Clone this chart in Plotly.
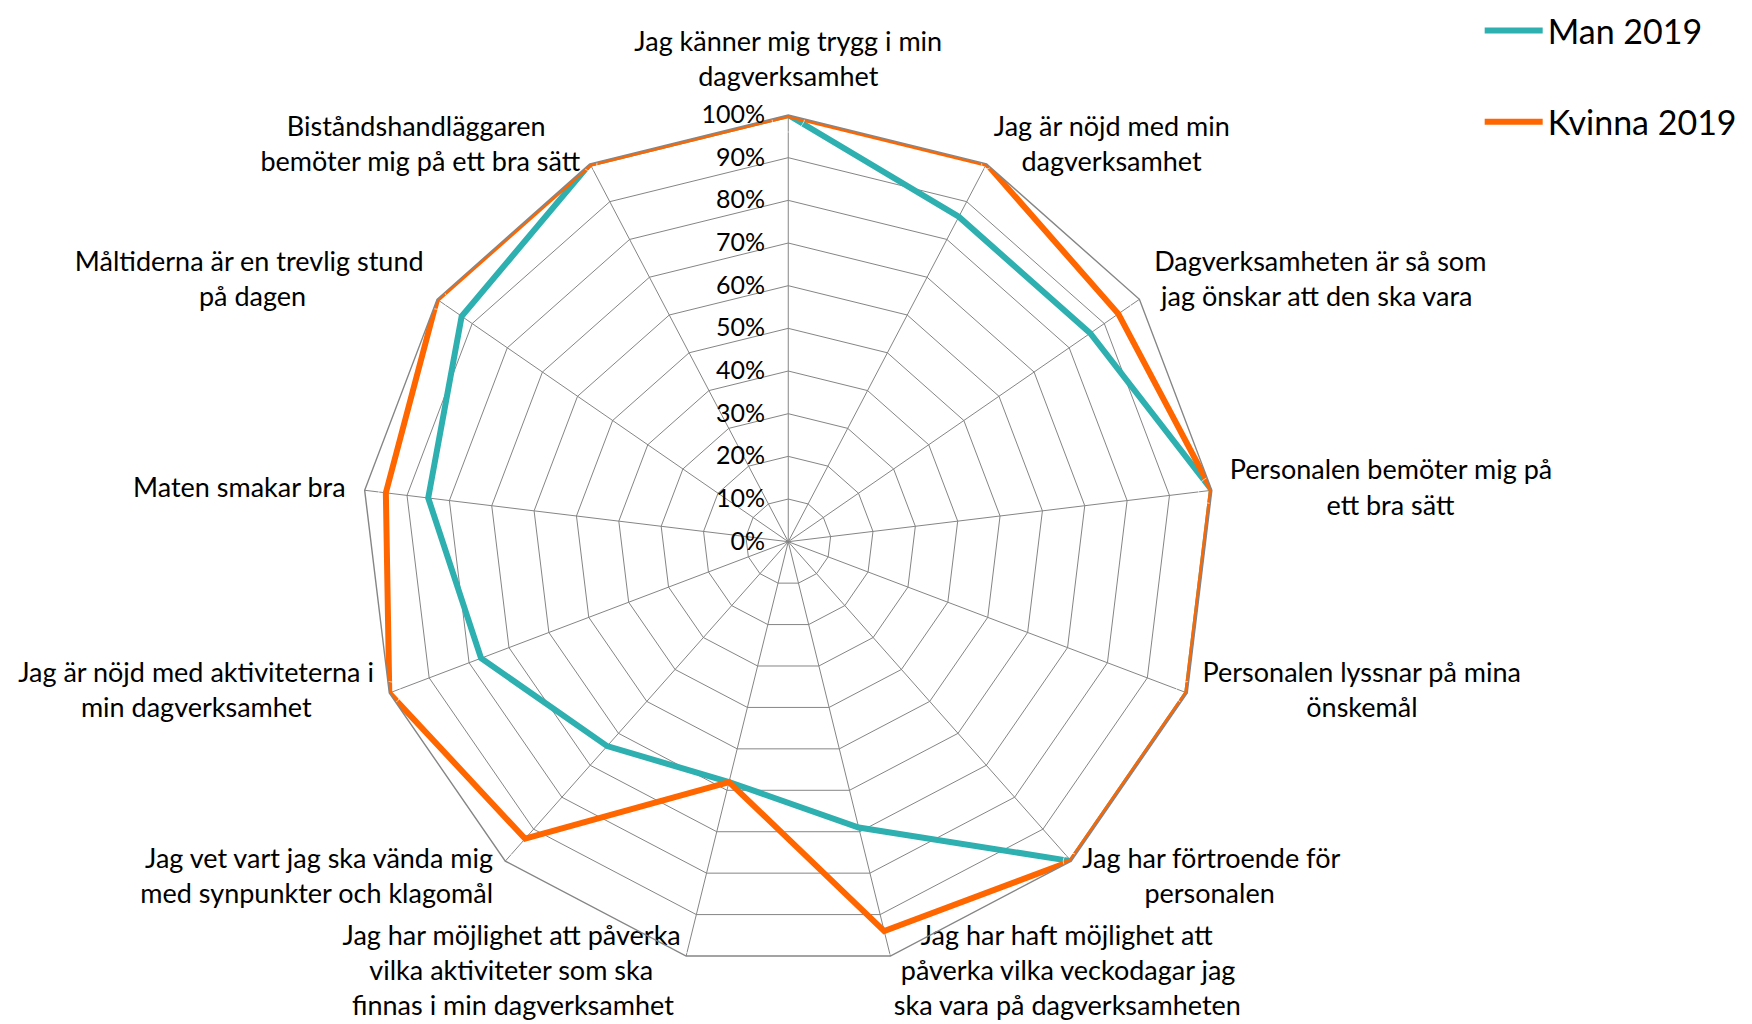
import plotly.graph_objects as go

categories = [
    "Jag känner mig trygg i min<br>dagverksamhet",
    "Jag är nöjd med min<br>dagverksamhet",
    "Dagverksamheten är så som<br>jag önskar att den ska vara",
    "Personalen bemöter mig på<br>ett bra sätt",
    "Personalen lyssnar på mina<br>önskemål",
    "Jag har förtroende för<br>personalen",
    "Jag har haft möjlighet att<br>påverka vilka veckodagar jag<br>ska vara på dagverksamheten",
    "Jag har möjlighet att påverka<br>vilka aktiviteter som ska<br>finnas i min dagverksamhet",
    "Jag vet vart jag ska vända mig<br>med synpunkter och klagomål",
    "Jag är nöjd med aktiviteterna i<br>min dagverksamhet",
    "Maten smakar bra",
    "Måltiderna är en trevlig stund<br>på dagen",
    "Biståndshandläggaren<br>bemöter mig på ett bra sätt",
]
man_2019 = [1.00, 0.86, 0.86, 1.00, 1.00, 1.00, 0.69, 0.58, 0.64, 0.77, 0.85, 0.93, 1.00]
kvinna_2019 = [1.00, 1.00, 0.94, 1.00, 1.00, 1.00, 0.94, 0.58, 0.93, 1.00, 0.95, 1.00, 1.00]
series_names = ["Man 2019", "Kvinna 2019"]
radial_ticks = [0, 0.1, 0.2, 0.3, 0.4, 0.5, 0.6, 0.7, 0.8, 0.9, 1.0]

# label styling (placement relative to each spoke end)
label_sides = ["top center"] + ["middle right"] * 6 + ["middle left"] * 6
label_gap = [34, 10, 22, 27, 23, 16, 4, 7, 18, 23, 29, 20, 14]
label_shift = [0, -1, -1, 0, 0, 1, 1, 1, 1, 0, 0, -1, -1]  # -1 up, +1 down

FONT = "Lato, 'Open Sans', sans-serif"
GRID = "#858585"
LABEL_SIZE = 27
NBSP = "\u00a0"

# rough Lato glyph widths (em) used only to center multi-line labels
_W = {"a": .49, "b": .55, "c": .45, "d": .55, "e": .51, "f": .31, "g": .49,
      "h": .55, "i": .24, "j": .24, "k": .49, "l": .24, "m": .82, "n": .55,
      "o": .55, "p": .55, "r": .36, "s": .42, "t": .34, "u": .55, "v": .49,
      "w": .75, "y": .49, "å": .49, "ä": .49, "ö": .55, " ": .26,
      "J": .36, "M": .86}


def _width(s):
    return sum(_W.get(ch, 0.6 if ch.isupper() else 0.5) for ch in s)


def build_label(label, side, shift):
    lines = label.split("<br>")
    if len(lines) > 1 and "center" not in side:
        wmax = max(_width(l) for l in lines)
        out = []
        for l in lines:
            pad = NBSP * int(round((wmax - _width(l)) / 2 / 0.255))
            out.append(pad + l if "right" in side else l + pad)
        lines = out
    if shift < 0:
        lines = lines + [NBSP]
    elif shift > 0:
        lines = [NBSP] + lines
    return "<br>".join(lines)


fig = go.Figure()
for name, vals, color, grp in [
    (series_names[0], man_2019, "#2EAFB0", "a"),
    (series_names[1], kvinna_2019, "#FF6600", "b"),
]:
    fig.add_trace(go.Scatterpolar(
        r=vals + vals[:1],
        theta=categories + categories[:1],
        mode="lines",
        name=name,
        legendgroup=grp,
        line=dict(color=color, width=6),
    ))

# category labels, placed at the outer ring through the polar scales
fig.add_trace(go.Scatterpolar(
    r=[1.0] * len(categories),
    theta=categories,
    mode="markers+text",
    text=[build_label(c, s, k) for c, s, k in zip(categories, label_sides, label_shift)],
    textposition=label_sides,
    textfont=dict(family=FONT, size=LABEL_SIZE, color="black"),
    marker=dict(size=label_gap, color="rgba(0,0,0,0)"),
    cliponaxis=False,
    showlegend=False,
    hoverinfo="skip",
))

fig.update_layout(
    width=1752, height=1024,
    paper_bgcolor="white",
    margin=dict(l=0, r=0, t=0, b=0, autoexpand=False),
    font=dict(family=FONT, size=25, color="black"),
    showlegend=True,
    legend=dict(
        x=0.840, y=1.006, xanchor="left", yanchor="top",
        font=dict(family=FONT, size=34, color="black"),
        itemwidth=58,
        tracegroupgap=44,
        traceorder="grouped",
        bgcolor="rgba(0,0,0,0)",
    ),
    polar=dict(
        domain=dict(x=[0.2018, 0.6889], y=[0.0621, 0.8955]),
        bgcolor="white",
        gridshape="linear",
        angularaxis=dict(
            direction="clockwise",
            rotation=90,
            type="category",
            categoryarray=categories,
            categoryorder="array",
            showgrid=True,
            gridcolor=GRID,
            gridwidth=1.4,
            showline=True,
            linecolor=GRID,
            linewidth=1.4,
            ticks="",
            showticklabels=False,
        ),
        radialaxis=dict(
            range=[0, 1],
            tickvals=radial_ticks,
            tickformat=".0%",
            angle=90,
            tickangle=90,
            side="counterclockwise",
            showline=False,
            ticks="outside",
            ticklen=14,
            tickcolor="rgba(0,0,0,0)",
            showgrid=True,
            gridcolor=GRID,
            gridwidth=1.4,
            tickfont=dict(family=FONT, size=25, color="black"),
        ),
    ),
)

fig.write_html("out.html")
